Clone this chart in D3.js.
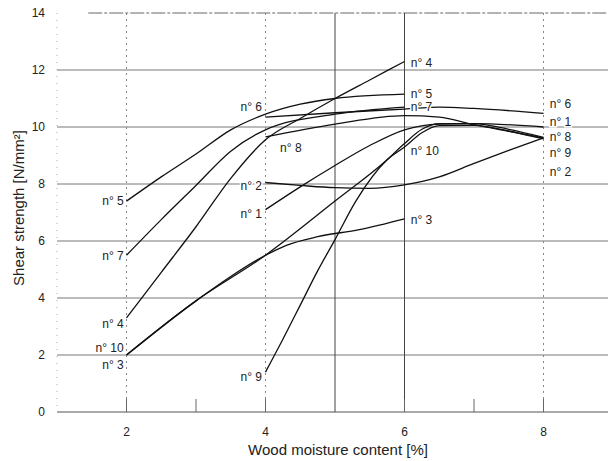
<!DOCTYPE html>
<html>
<head>
<meta charset="utf-8">
<script src="https://cdn.jsdelivr.net/npm/d3@7"></script>
<style>
body { margin: 0; background: #fff; }
text { font-family: "Liberation Sans", Arial, sans-serif; fill: #222; }
</style>
</head>
<body>
<script>
const w = 608;
const h = 461;

// * DATA
const yTicks = [0, 2, 4, 6, 8, 10, 12, 14];
const xTicks = [2, 4, 6, 8];
const n1 = [[4, 7.1], [4.5, 7.9], [5, 8.65], [5.5, 9.35], [6, 9.9], [6.5, 10.1], [7, 10.12], [8, 10.0]];
const n2 = [[4, 8.05], [4.5, 7.95], [5, 7.87], [5.5, 7.85], [6, 7.97], [6.5, 8.25], [7, 8.72], [7.5, 9.18], [8, 9.62]];
const n3 = [[2, 2.0], [3, 3.9], [4, 5.5], [4.3, 5.85], [4.75, 6.15], [5.35, 6.4], [6, 6.78]];
const n4 = [[2, 3.3], [2.5, 4.9], [3, 6.5], [3.5, 8.2], [4, 9.55], [4.5, 10.3], [5, 11.0], [5.5, 11.65], [6, 12.3]];
const n5 = [[2, 7.4], [2.5, 8.25], [3, 9.05], [3.5, 9.9], [4, 10.45], [4.5, 10.8], [5, 11.0], [6, 11.15]];
const n6 = [[4, 10.35], [5, 10.5], [6, 10.63], [6.5, 10.7], [7, 10.65], [8, 10.48]];
const n7 = [[2, 5.5], [2.5, 6.75], [3, 7.95], [3.5, 9.15], [4, 9.9], [5, 10.45], [6, 10.7]];
const n8 = [[4, 9.65], [5, 10.1], [6, 10.4], [6.5, 10.35], [7, 10.08], [7.5, 9.85], [8, 9.62]];
const n9 = [[4, 1.4], [4.25, 2.55], [4.5, 3.75], [4.75, 4.95], [5, 6.05], [5.3, 7.4], [5.75, 8.85], [6, 9.3], [6.25, 9.8], [6.5, 10.05], [7, 10.06], [7.5, 9.86], [8, 9.58]];
const n10 = [[2, 2.0], [3, 3.9], [4, 5.5], [5, 7.4], [5.75, 8.85], [6, 9.42], [6.25, 9.92], [6.5, 10.12], [7, 10.12], [7.5, 9.92], [8, 9.64]];
const seriesList = [n1, n2, n3, n4, n5, n6, n7, n8, n9, n10];

// label text, x, y (data units), anchor
const curveLabels = [
	["n° 5", 1.96, 7.4, "end"], ["n° 7", 1.96, 5.47, "end"], ["n° 4", 1.96, 3.09, "end"],
	["n° 10", 1.96, 2.25, "end"], ["n° 3", 1.96, 1.65, "end"],
	["n° 6", 3.95, 10.7, "end"], ["n° 2", 3.95, 7.93, "end"], ["n° 1", 3.95, 6.95, "end"],
	["n° 9", 3.95, 1.23, "end"], ["n° 8", 4.21, 9.26, "start"],
	["n° 4", 6.09, 12.25, "start"], ["n° 5", 6.09, 11.16, "start"], ["n° 7", 6.09, 10.7, "start"],
	["n° 10", 6.09, 9.16, "start"], ["n° 3", 6.09, 6.74, "start"],
	["n° 6", 8.09, 10.81, "start"], ["n° 1", 8.09, 10.18, "start"], ["n° 8", 8.09, 9.65, "start"],
	["n° 9", 8.09, 9.09, "start"], ["n° 2", 8.09, 8.42, "start"],
];

// * SVG BASE SETUP
const svg = d3.select("body").append("svg").attr("width", w).attr("height", h);

// * SCALE FUNCTIONS
const xScale = d3.scaleLinear().domain([1, 9]).range([57, 613]);
const yScale = d3.scaleLinear().domain([0, 14]).range([412, 13]);

// * GRID
svg.append("g")
	.selectAll("line")
	.data(yTicks.filter((d) => d > 0 && d < 14))
	.enter()
	.append("line")
	.attr("x1", xScale(1))
	.attr("x2", w)
	.attr("y1", (d) => yScale(d))
	.attr("y2", (d) => yScale(d))
	.attr("stroke", "#777")
	.attr("stroke-width", 1);
// top frame line
svg.append("line")
	.attr("x1", xScale(1.45)).attr("x2", w)
	.attr("y1", yScale(14)).attr("y2", yScale(14))
	.attr("stroke", "#666").attr("stroke-dasharray", "14 2 3 2");
// dotted verticals
svg.append("g")
	.selectAll("line")
	.data([2, 4, 8])
	.enter()
	.append("line")
	.attr("x1", (d) => xScale(d))
	.attr("x2", (d) => xScale(d))
	.attr("y1", yScale(14))
	.attr("y2", yScale(0))
	.attr("stroke", "#888")
	.attr("stroke-dasharray", "2 4");
// solid verticals
svg.append("g")
	.selectAll("line")
	.data([5, 6])
	.enter()
	.append("line")
	.attr("x1", (d) => xScale(d))
	.attr("x2", (d) => xScale(d))
	.attr("y1", yScale(14))
	.attr("y2", yScale(0))
	.attr("stroke", "#444");
// left axis (faint)
svg.append("line")
	.attr("x1", xScale(1)).attr("x2", xScale(1))
	.attr("y1", yScale(14)).attr("y2", yScale(0))
	.attr("stroke", "#aaa").attr("stroke-dasharray", "1 6");

// * AXES
const xAxis = d3.axisBottom(xScale).tickValues([1, 2, 3, 4, 5, 6, 7, 8]).tickSize(0).tickFormat("");
svg.append("g")
	.attr("transform", "translate(0," + yScale(0) + ")")
	.call(xAxis)
	.call((g) => g.select(".domain").attr("stroke", "#555").attr("d", "M57,0H" + w));
svg.append("g")
	.selectAll("line")
	.data([2, 3, 4, 6, 7, 8])
	.enter()
	.append("line")
	.attr("x1", (d) => xScale(d))
	.attr("x2", (d) => xScale(d))
	.attr("y1", yScale(0))
	.attr("y2", yScale(0) - 13)
	.attr("stroke", "#666");
svg.append("g")
	.selectAll("text")
	.data(xTicks)
	.enter()
	.append("text")
	.attr("x", (d) => xScale(d))
	.attr("y", yScale(0) + 24)
	.attr("text-anchor", "middle")
	.attr("font-size", 12)
	.text((d) => d);
svg.append("g")
	.selectAll("text")
	.data(yTicks)
	.enter()
	.append("text")
	.attr("x", 45)
	.attr("y", (d) => yScale(d))
	.attr("dy", "0.35em")
	.attr("text-anchor", "end")
	.attr("font-size", 12)
	.text((d) => d);

// * TITLES
svg.append("text")
	.attr("x", 338)
	.attr("y", 455)
	.attr("text-anchor", "middle")
	.attr("font-size", 15)
	.text("Wood moisture content [%]");
svg.append("text")
	.attr("transform", "translate(24,208) rotate(-90)")
	.attr("text-anchor", "middle")
	.attr("font-size", 15)
	.text("Shear strength [N/mm²]");

// * CURVES
const line = d3
	.line()
	.x((d) => xScale(d[0]))
	.y((d) => yScale(d[1]))
	.curve(d3.curveMonotoneX);
svg.append("g")
	.selectAll("path")
	.data(seriesList)
	.enter()
	.append("path")
	.attr("d", line)
	.attr("fill", "none")
	.attr("stroke", "#111")
	.attr("stroke-width", 1.3);

// * CURVE LABELS
svg.append("g")
	.selectAll("text")
	.data(curveLabels)
	.enter()
	.append("text")
	.attr("x", (d) => xScale(d[1]))
	.attr("y", (d) => yScale(d[2]))
	.attr("dy", "0.35em")
	.attr("text-anchor", (d) => d[3])
	.attr("font-size", 12)
	.attr("stroke", "#fff")
	.attr("stroke-width", 3)
	.attr("paint-order", "stroke")
	.text((d) => d[0]);
</script>
</body>
</html>
